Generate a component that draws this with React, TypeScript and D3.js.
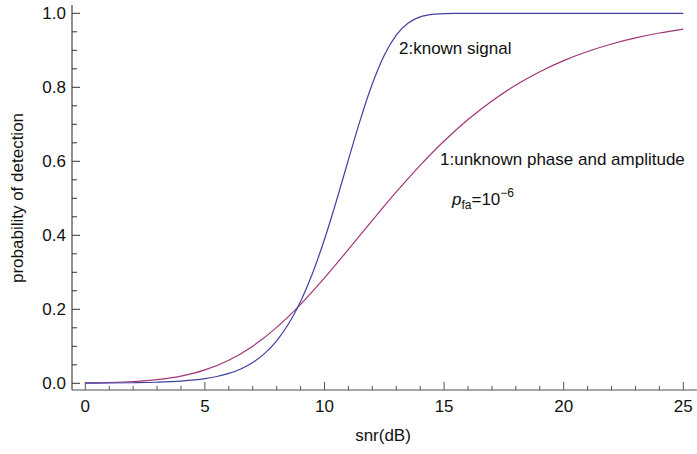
import React from "react";
import * as d3 from "d3";

// snr in dB
const snrDb1: number[] = [0,1,2,3,4,5,6,7,8,9,10,11,12,13,14,15,16,17,18,19,20,21,22,23,24,25];
// 1: unknown phase and amplitude
const pdUnknown: number[] = [0.001,0.0022,0.0048,0.0099,0.0196,0.0362,0.0624,0.1004,0.1511,0.2134,0.2848,0.3618,0.4404,0.5172,0.5892,0.6548,0.7128,0.7632,0.8061,0.8422,0.8722,0.8968,0.917,0.9334,0.9467,0.9574];

const snrDb2: number[] = [0,1,2,3,4,5,5.5,6,6.5,7,7.5,8,8.5,9,9.5,10,10.5,11,11.5,12,12.5,13,13.5,14,14.5,15,15.5,16,17,18,19,20,21,22,23,24,25];
// 2: known signal
const pdKnown: number[] = [0.0004,0.0008,0.0015,0.0029,0.006,0.0126,0.0183,0.0267,0.0388,0.0562,0.0808,0.1149,0.161,0.2214,0.2976,0.3892,0.4935,0.6043,0.7128,0.8097,0.8869,0.9411,0.9737,0.9902,0.9971,0.9993,0.9999,1,1,1,1,1,1,1,1,1,1];

const xMajorTicks: number[] = [0,5,10,15,20,25];
const yMajorTicks: number[] = [0,0.2,0.4,0.6,0.8,1.0];

const W = 697, H = 454;

export default function App() {
  const x = d3.scaleLinear().domain([0, 25]).range([85.3, 683.3]);
  const y = d3.scaleLinear().domain([0, 1]).range([383.3, 13.3]);
  const axisX = 72; // y-axis position (px)
  const axisY = 390; // x-axis position (px)

  const line = d3.line<[number, number]>()
    .x(d => x(d[0]))
    .y(d => y(d[1]))
    .curve(d3.curveMonotoneX);

  const d1 = line(snrDb1.map((v, i) => [v, pdUnknown[i]] as [number, number])) || "";
  const d2 = line(snrDb2.map((v, i) => [v, pdKnown[i]] as [number, number])) || "";

  const xMinor = d3.range(0, 26, 1).filter(v => !xMajorTicks.includes(v));
  const yMinor = d3.range(0, 1.0001, 0.05).filter(v => !yMajorTicks.some(t => Math.abs(t - v) < 1e-6));

  const font = "'Liberation Sans', Arial, sans-serif";
  const fs = 17;

  return (
    <svg width={W} height={H} style={{ position: "absolute", left: 0, top: 0, background: "#fff" }} fontFamily={font}>
      {/* curves */}
      <path d={d1} fill="none" stroke="#a0357a" strokeWidth={1.2} />
      <path d={d2} fill="none" stroke="#4040a0" strokeWidth={1.2} />

      {/* x axis */}
      <line x1={axisX} x2={W} y1={axisY} y2={axisY} stroke="#8a8a8a" strokeWidth={1.6} />
      {xMajorTicks.map(t => (
        <g key={"xm" + t}>
          <line x1={x(t)} x2={x(t)} y1={axisY} y2={axisY - 8} stroke="#555" strokeWidth={1} />
          <text x={x(t)} y={412} textAnchor="middle" fontSize={fs} fill="#111">{t}</text>
        </g>
      ))}
      {xMinor.map(t => (
        <line key={"xn" + t} x1={x(t)} x2={x(t)} y1={axisY} y2={axisY - 4} stroke="#555" strokeWidth={1} />
      ))}

      {/* y axis */}
      <line x1={axisX} x2={axisX} y1={5} y2={axisY} stroke="#333" strokeWidth={1.1} />
      {yMajorTicks.map(t => (
        <g key={"ym" + t}>
          <line x1={axisX} x2={axisX + 8} y1={y(t)} y2={y(t)} stroke="#333" strokeWidth={1} />
          <text x={66} y={y(t) + 6} textAnchor="end" fontSize={fs} fill="#111">{t.toFixed(1)}</text>
        </g>
      ))}
      {yMinor.map(t => (
        <line key={"yn" + t} x1={axisX} x2={axisX + 5} y1={y(t)} y2={y(t)} stroke="#333" strokeWidth={1} />
      ))}

      {/* axis labels */}
      <text x={383} y={441} textAnchor="middle" fontSize={fs} fill="#111">snr(dB)</text>
      <text transform={`translate(23,198) rotate(-90)`} textAnchor="middle" fontSize={fs} fill="#111">probability of detection</text>

      {/* annotations */}
      <text x={399} y={54} fontSize={fs} fill="#111">2:known signal</text>
      <text x={440} y={165} fontSize={fs} fill="#111">1:unknown phase and amplitude</text>
      <text x={452} y={205} fontSize={fs} fill="#111">
        <tspan fontStyle="italic">p</tspan>
        <tspan fontSize={12} dy={4}>fa</tspan>
        <tspan dy={-4}>=10</tspan>
        <tspan fontSize={12} dy={-8}>−6</tspan>
      </text>
    </svg>
  );
}
